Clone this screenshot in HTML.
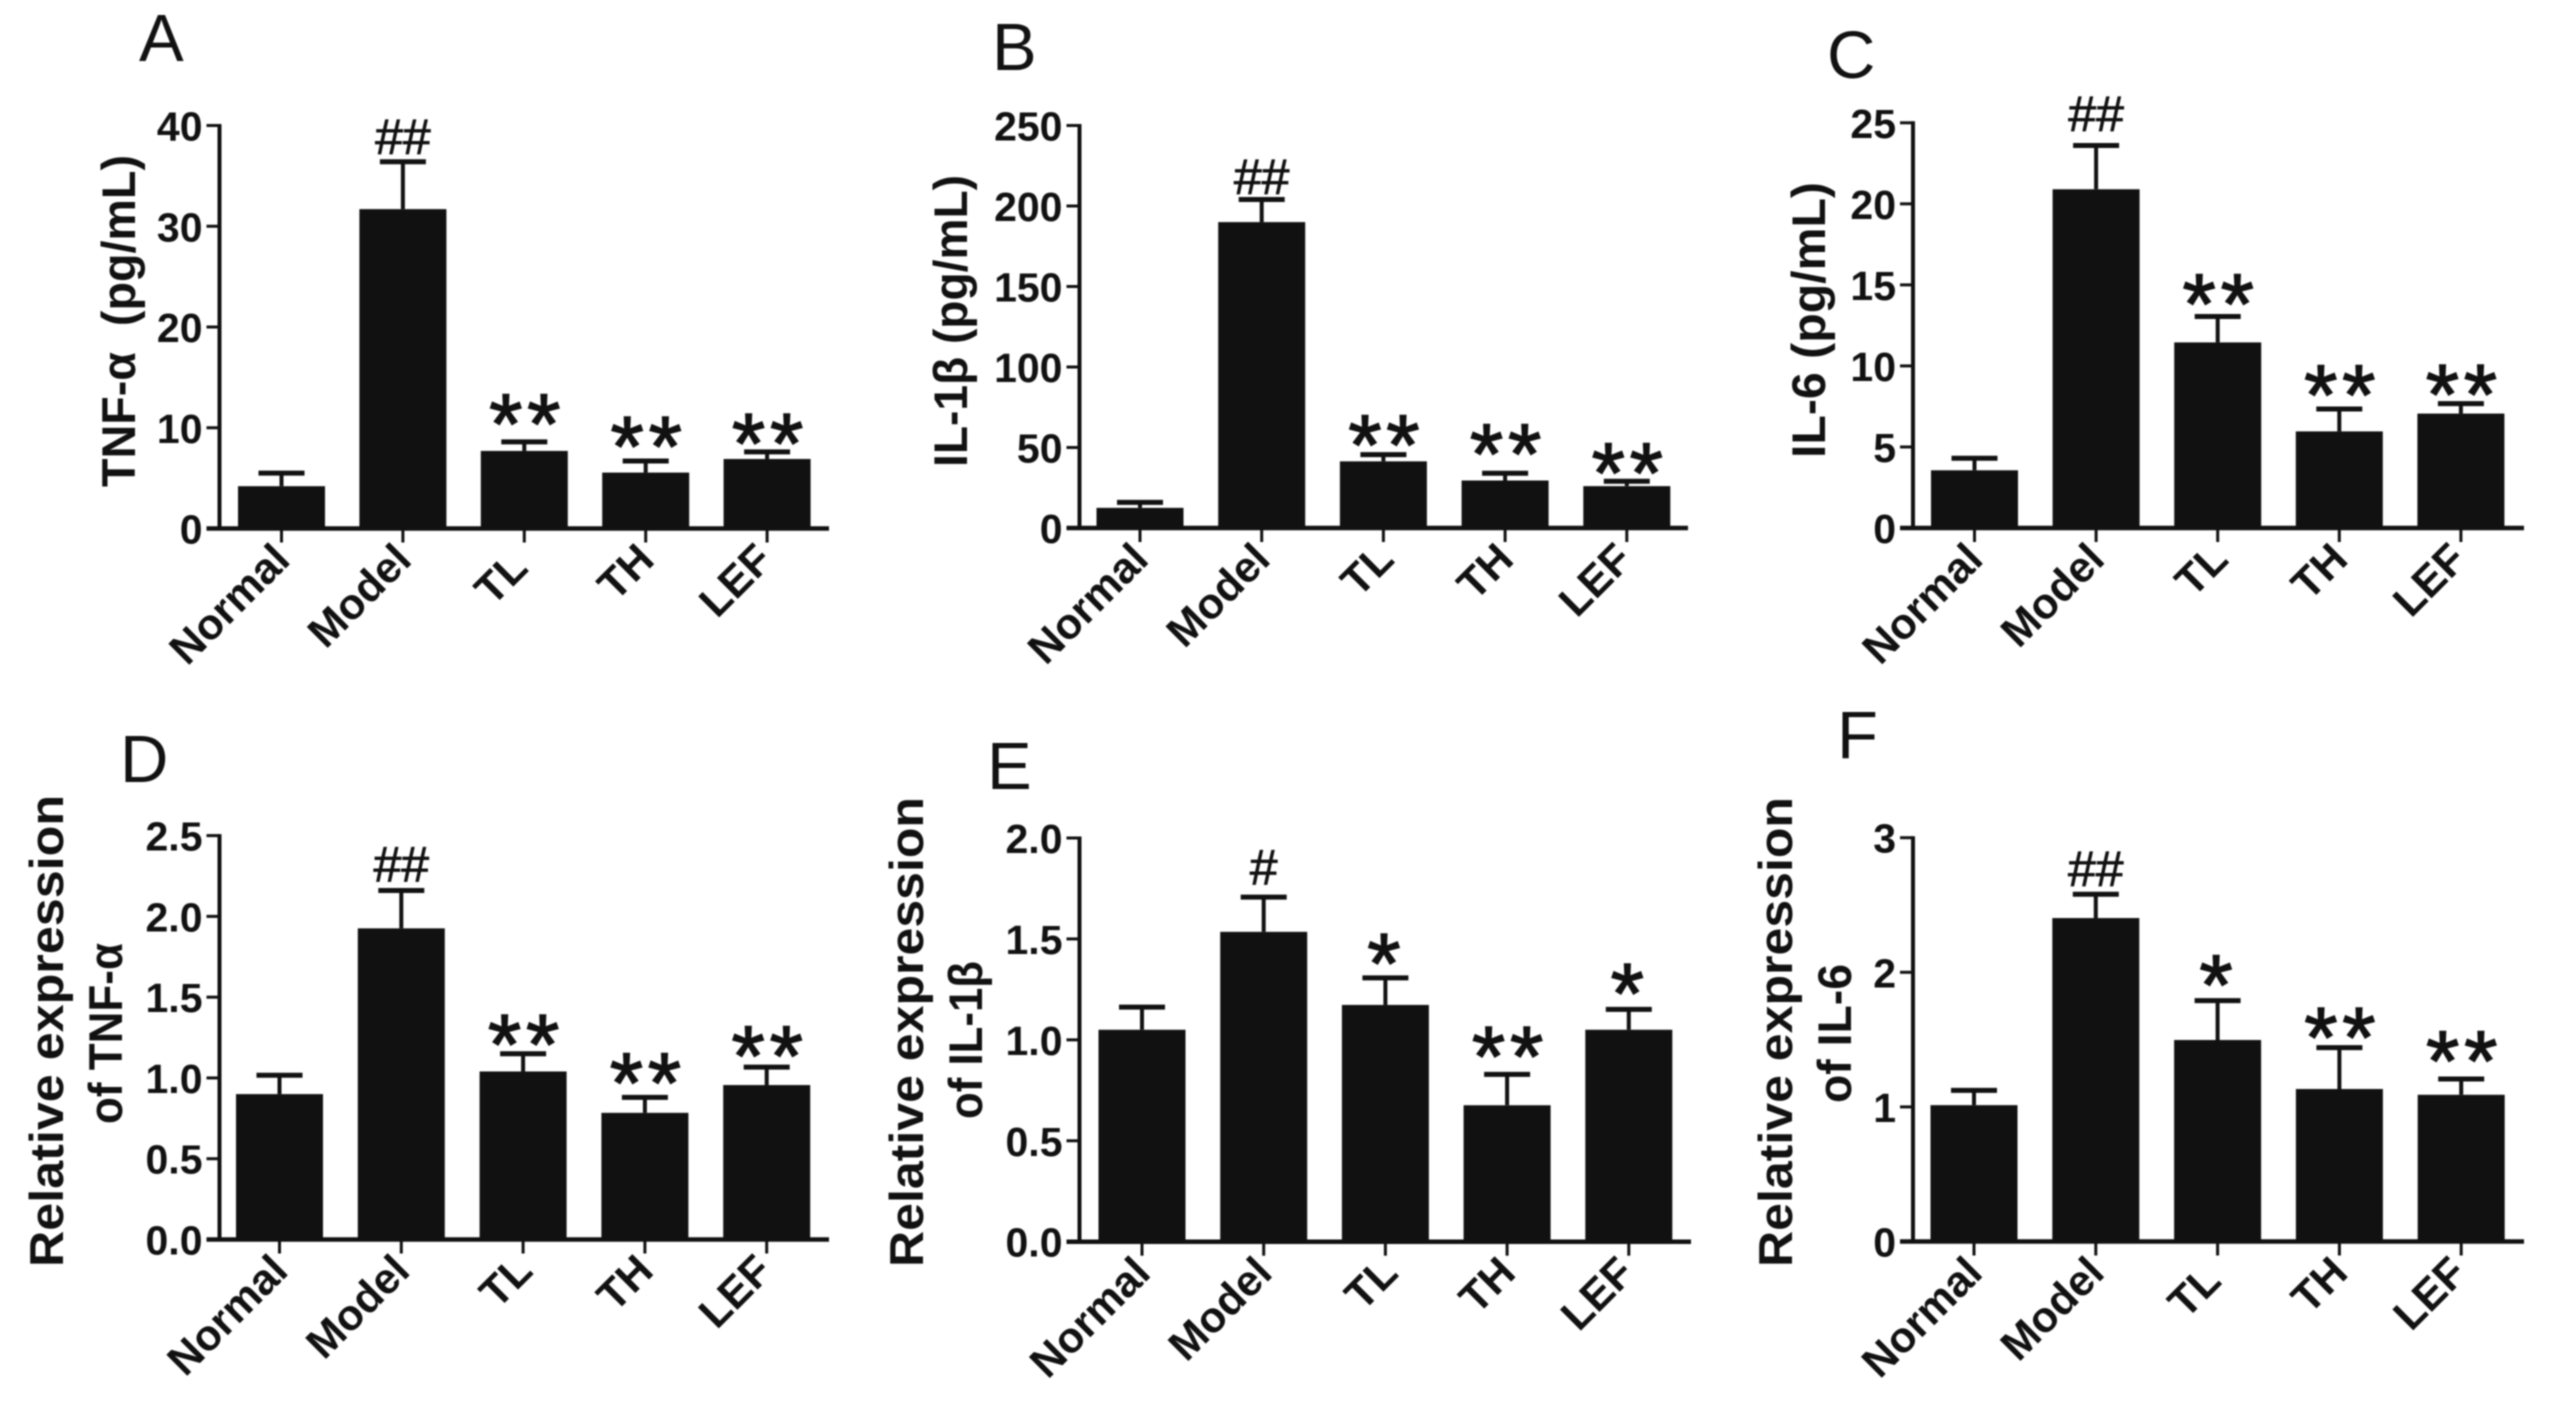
<!DOCTYPE html>
<html lang="en">
<head>
<meta charset="utf-8">
<title>Cytokine levels and relative expression by treatment group</title>
<style>
html,body{margin:0;padding:0;background:#fff;}
body{width:2557px;height:1403px;overflow:hidden;}
svg{display:block;filter:blur(0.7px);}
text{font-family:"Liberation Sans","DejaVu Sans",sans-serif;fill:#111;}
</style>
</head>
<body>
<svg id="figure" xmlns="http://www.w3.org/2000/svg" width="2557" height="1403" viewBox="0 0 2557 1403"></svg>
<script>
const categories = ["Normal", "Model", "TL", "TH", "LEF"];

const ticksA = ["0", "10", "20", "30", "40"];
const valuesA = [4.2, 31.7, 7.7, 5.55, 6.9];
const errorTopsA = [5.5, 36.4, 8.6, 6.7, 7.6];
const marksA = ["", "##", "**", "**", "**"];
const markLiftsA = [0, 0.75, 1.33, 0.98, 0.4];

const ticksB = ["0", "50", "100", "150", "200", "250"];
const valuesB = [12.5, 190, 41.4, 29.5, 26];
const errorTopsB = [15.9, 204, 45.6, 34, 29];
const marksB = ["", "##", "**", "**", "**"];
const markLiftsB = [0, 3.3, 3.3, 9.2, 2.5];

const ticksC = ["0", "5", "10", "15", "20", "25"];
const valuesC = [3.56, 20.9, 11.45, 5.96, 7.06];
const errorTopsC = [4.3, 23.6, 13.05, 7.34, 7.67];
const marksC = ["", "##", "**", "**", "**"];
const markLiftsC = [0, 0.88, 0.5, 0.6, 0.28];

const ticksD = ["0.0", "0.5", "1.0", "1.5", "2.0", "2.5"];
const valuesD = [0.9, 1.926, 1.04, 0.784, 0.956];
const errorTopsD = [1.017, 2.16, 1.15, 0.88, 1.067];
const marksD = ["", "##", "**", "**", "**"];
const markLiftsD = [0, 0.055, 0.028, 0.06, 0.042];

const ticksE = ["0.0", "0.5", "1.0", "1.5", "2.0"];
const valuesE = [1.05, 1.535, 1.173, 0.676, 1.05];
const errorTopsE = [1.162, 1.707, 1.307, 0.829, 1.151];
const marksE = ["", "#", "*", "**", "*"];
const markLiftsE = [0, 0.062, 0.049, 0.067, 0.056];

const ticksF = ["0", "1", "2", "3"];
const valuesF = [1.013, 2.403, 1.497, 1.133, 1.09];
const errorTopsF = [1.123, 2.58, 1.79, 1.44, 1.207];
const marksF = ["", "##", "*", "**", "**"];
const markLiftsF = [0, 0.06, 0.083, 0.043, 0.1];

const panels = [
  {id:"a", letter:"A", lx:139, ly:61, axisX:219.5, top:125.5, base:528.5, end:829, first:281.5, step:121.4, tlDx:-5, tlDy:8,
   ticks:ticksA, values:valuesA, errs:errorTopsA, marks:marksA, lifts:markLiftsA,
   titles:[{t:"TNF-α  (pg/mL)", x:135, y1:155, y2:487}]},
  {id:"b", letter:"B", lx:992, ly:70, axisX:1079.5, top:125.5, base:528, end:1688, first:1140, step:121.7, tlDx:2, tlDy:0,
   ticks:ticksB, values:valuesB, errs:errorTopsB, marks:marksB, lifts:markLiftsB,
   titles:[{t:"IL-1β (pg/mL)", x:967, y1:175, y2:467}]},
  {id:"c", letter:"C", lx:1827, ly:78, axisX:1913, top:122.8, base:528, end:2524, first:1974.5, step:121.6, tlDx:2, tlDy:0,
   ticks:ticksC, values:valuesC, errs:errorTopsC, marks:marksC, lifts:markLiftsC,
   titles:[{t:"IL-6 (pg/mL)", x:1825, y1:182, y2:458}]},
  {id:"d", letter:"D", lx:120, ly:782, axisX:219.5, top:835.6, base:1239.5, end:829, first:279.5, step:121.8, tlDx:1, tlDy:0,
   ticks:ticksD, values:valuesD, errs:errorTopsD, marks:marksD, lifts:markLiftsD,
   titles:[{t:"Relative expression", x:63, y1:795, y2:1267},{t:"of TNF-α", x:122, y1:943, y2:1124}]},
  {id:"e", letter:"E", lx:987, ly:789, axisX:1079.5, top:838, base:1241.7, end:1691, first:1142, step:121.7, tlDx:4, tlDy:0,
   ticks:ticksE, values:valuesE, errs:errorTopsE, marks:marksE, lifts:markLiftsE,
   titles:[{t:"Relative expression", x:923, y1:797, y2:1267},{t:"of IL-1β", x:982, y1:961, y2:1119}]},
  {id:"f", letter:"F", lx:1837, ly:758, axisX:1913, top:837.7, base:1241.5, end:2524, first:1974, step:121.8, tlDx:-5, tlDy:8,
   ticks:ticksF, values:valuesF, errs:errorTopsF, marks:marksF, lifts:markLiftsF,
   titles:[{t:"Relative expression", x:1792, y1:797, y2:1267},{t:"of IL-6", x:1851, y1:964, y2:1103}]}
];

const SVG_NS = "http://www.w3.org/2000/svg";
const figure = document.getElementById("figure");
const INK = "#111";
const BAR_W = 87;
const CAP_W = 46;

function makeEl(tag, parent, attrs) {
  const el = document.createElementNS(SVG_NS, tag);
  for (const k in attrs) el.setAttribute(k, attrs[k]);
  parent.appendChild(el);
  return el;
}

function yScaleFor(p) {
  const max = parseFloat(p.ticks[p.ticks.length - 1]);
  return function (v) { return p.base - (v / max) * (p.base - p.top); };
}
function xScaleFor(p) {
  return function (i) { return p.first + i * p.step; };
}

panels.forEach(function (p) {
  const y = yScaleFor(p);
  const x = xScaleFor(p);

  const g = makeEl("g", figure, {});
  
  

  const letter = makeEl("text", g, {x: p.lx, y: p.ly, "font-size": 67});
  letter.textContent = p.letter;
  
  

  p.titles.forEach(function (tt, ti) {
    const cy = (tt.y1 + tt.y2) / 2;
    const title = makeEl("text", g, {
      x: 0, y: 0, "font-size": 47, "font-weight": "bold", "text-anchor": "middle",
      style: "white-space:pre", textLength: tt.y2 - tt.y1, lengthAdjust: "spacingAndGlyphs",
      transform: "translate(" + tt.x + "," + cy + ") rotate(-90)"
    });
    title.textContent = tt.t;
    
    
  });

  categories.forEach(function (c, i) {
    const cx = x(i);
    const top = y(p.values[i]);
    const bar = makeEl("rect", g, {x: cx - BAR_W / 2, y: top, width: BAR_W, height: p.base - top, fill: INK});
    
    

    const ey = y(p.errs[i]);
    const stem = makeEl("line", g, {x1: cx, x2: cx, y1: top, y2: ey, stroke: INK, "stroke-width": 4});
    
    
    const cap = makeEl("line", g, {x1: cx - CAP_W / 2, x2: cx + CAP_W / 2, y1: ey, y2: ey, stroke: INK, "stroke-width": 5});
    
    

    const mark = p.marks[i];
    if (mark) {
      const isHash = mark.charAt(0) === "#";
      const markBottom = y(p.errs[i] + p.lifts[i]);
      const sig = makeEl("text", g, isHash ? {
        x: cx, y: markBottom, "font-size": 50, "text-anchor": "middle",
        stroke: INK, "stroke-width": 0.8
      } : {
        x: cx + (mark.length > 1 ? 3 : 1), y: markBottom + 25, "font-size": 85, "text-anchor": "middle",
        "letter-spacing": 5, stroke: INK, "stroke-width": 1.5
      });
      sig.textContent = mark;
      
      
    }

    const tick = makeEl("line", g, {x1: cx, x2: cx, y1: p.base, y2: p.base + 14, stroke: INK, "stroke-width": 3});
    
    

    let ldx = 10.5, ldy = 33.5;
    if (c === "TL") { ldx += p.tlDx; ldy += p.tlDy; }
    if (c === "LEF") { ldx -= 3; }
    const lab = makeEl("text", g, {
      x: 0, y: 0, "font-size": 43, "font-weight": "bold", "text-anchor": "end",
      transform: "translate(" + (cx + ldx) + "," + (p.base + ldy) + ") rotate(-45)"
    });
    lab.textContent = c;
    
    
  });

  const yAxis = makeEl("line", g, {x1: p.axisX, x2: p.axisX, y1: p.top - 1.5, y2: p.base + 2, stroke: INK, "stroke-width": 4});
  
  
  const xAxis = makeEl("line", g, {x1: p.axisX - 13, x2: p.end, y1: p.base, y2: p.base, stroke: INK, "stroke-width": 4.5});
  
  

  p.ticks.forEach(function (label) {
    const ty = y(parseFloat(label));
    const tick = makeEl("line", g, {x1: p.axisX - 13, x2: p.axisX, y1: ty, y2: ty, stroke: INK, "stroke-width": 3});
    
    
    const txt = makeEl("text", g, {
      x: p.axisX - 17, y: ty + 15, "font-size": 41, "font-weight": "bold", "text-anchor": "end"
    });
    txt.textContent = label;
    
    
  });
});
</script>
</body>
</html>
